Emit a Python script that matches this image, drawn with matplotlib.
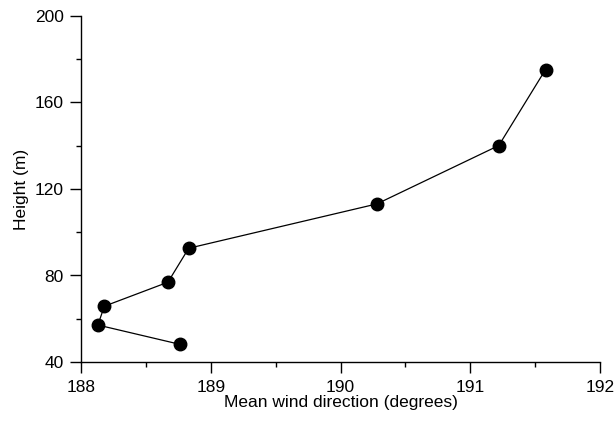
import numpy as np
import matplotlib.pyplot as plt
from matplotlib.ticker import MultipleLocator

plt.rcParams['font.family'] = ['Liberation Sans', 'DejaVu Sans']

# Data
direction = [188.76, 188.13, 188.18, 188.67, 188.83, 190.28, 191.22, 191.58]
height = [48.2, 57.1, 65.8, 76.9, 92.6, 113.1, 140.1, 175.2]

fig = plt.figure(figsize=(6.14, 4.23), dpi=100)
ax = fig.add_axes([81 / 614, 1 - 362 / 423, (600 - 81) / 614, (362 - 16) / 423])

ax.plot(direction, height, color='black', lw=0.9, marker='o', ms=9,
        mfc='black', mec='black', clip_on=False)

ax.set_xlim(188, 192)
ax.set_ylim(40, 200)
ax.xaxis.set_major_locator(MultipleLocator(1))
ax.xaxis.set_minor_locator(MultipleLocator(0.5))
ax.yaxis.set_major_locator(MultipleLocator(40))
ax.yaxis.set_minor_locator(MultipleLocator(20))

for side in ['top', 'right']:
    ax.spines[side].set_visible(False)
for side in ['left', 'bottom']:
    ax.spines[side].set_linewidth(1.0)

ax.tick_params(which='major', direction='out', length=7.6, width=1.0,
               labelsize=12.5)
ax.tick_params(axis='x', which='major', pad=5.2)
ax.tick_params(axis='y', which='major', pad=5.0)
ax.tick_params(which='minor', direction='out', length=3.6, width=1.0)

ax.set_xlabel('Mean wind direction (degrees)', fontsize=12.5, labelpad=0)
ax.set_ylabel('Height (m)', fontsize=12.5, labelpad=4)

fig.savefig('out.png', dpi=100)
